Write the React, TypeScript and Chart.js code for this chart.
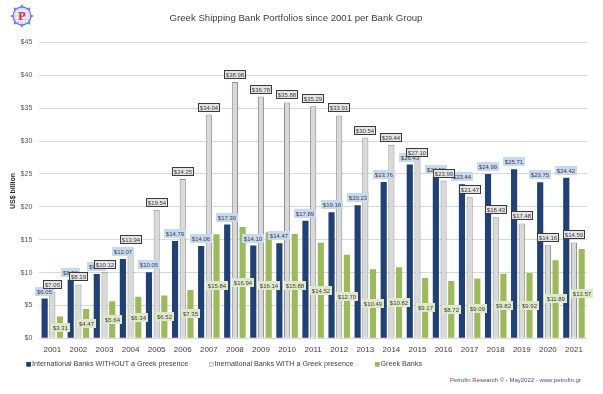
import React, { useEffect, useRef } from 'react';
import { Chart, registerables } from 'chart.js';
Chart.register(...registerables);

const years = ['2001','2002','2003','2004','2005','2006','2007','2008','2009','2010','2011','2012','2013','2014','2015','2016','2017','2018','2019','2020','2021'];
const withoutGreek = [6.05, 8.9, 9.79, 12.07, 10.05, 14.79, 14.06, 17.30, 14.10, 14.47, 17.89, 19.16, 20.23, 23.76, 26.43, 24.50, 23.44, 24.99, 25.71, 23.75, 24.42];
const withGreek = [7.05, 8.19, 10.12, 13.94, 19.54, 24.25, 34.04, 38.98, 36.78, 35.88, 35.29, 33.91, 30.54, 29.44, 27.10, 23.99, 21.47, 18.43, 17.48, 14.16, 14.59];
const greekBanks = [3.31, 4.47, 5.64, 6.34, 6.52, 7.35, 15.84, 16.94, 16.14, 15.88, 14.52, 12.70, 10.49, 10.82, 9.17, 8.72, 9.09, 9.82, 9.92, 11.89, 13.57];
const seriesNames = ['International Banks WITHOUT a Greek presence', 'Inernational Banks WITH a Greek presence', 'Greek Banks'];
const yMin = 0;
const yMax = 45;
const yStep = 5;
const titleText = 'Greek Shipping Bank Portfolios since 2001 per Bank Group';
const yTitle = 'US$ billion';

const FONT = '"Liberation Sans", Arial, sans-serif';
const BLUE = '#1f4177';
const GRAY = '#d9d9d9';
const GREEN = '#9bbb59';

const labelStyles = [
  { bg: '#c6d9f1', border: null as string | null },
  { bg: '#e4e4e4', border: '#3a3a3a' },
  { bg: '#dfe8c8', border: null as string | null },
];

const labelPlugin = {
  id: 'valueLabels',
  afterDatasetsDraw(chart: any) {
    const ctx = chart.ctx;
    ctx.save();
    ctx.font = `6px ${FONT}`;
    ctx.textAlign = 'center';
    ctx.textBaseline = 'middle';
    chart.data.datasets.forEach((ds: any, di: number) => {
      const meta = chart.getDatasetMeta(di);
      meta.data.forEach((bar: any, i: number) => {
        const v = ds.data[i];
        const text = '$' + v.toFixed(2);
        const p = bar.getProps(['x', 'y', 'base'], true);
        const cy = di === 2 ? (p.y + p.base) / 2 : p.y - 7.5;
        const w = Math.round(ctx.measureText(text).width + 4);
        const h = 9;
        const lx = Math.round(p.x - w / 2);
        const ly = Math.round(cy - h / 2);
        const st = labelStyles[di];
        ctx.fillStyle = st.bg;
        ctx.fillRect(lx, ly, w, h);
        if (st.border) {
          ctx.strokeStyle = st.border;
          ctx.lineWidth = 1;
          ctx.strokeRect(lx + 0.5, ly + 0.5, w - 1, h - 1);
        }
        ctx.fillStyle = '#404040';
        ctx.fillText(text, lx + w / 2, ly + h / 2 + 0.5);
      });
    });
    ctx.restore();
  },
};

const decorPlugin = {
  id: 'decor',
  afterDraw(chart: any) {
    const ctx = chart.ctx;
    ctx.save();
    // title
    ctx.fillStyle = '#404040';
    ctx.font = `9.6px ${FONT}`;
    ctx.textAlign = 'center';
    ctx.textBaseline = 'middle';
    ctx.fillText(titleText, 296, 18);

    // y axis title
    ctx.save();
    ctx.translate(13, 191);
    ctx.rotate(-Math.PI / 2);
    ctx.font = `bold 7px ${FONT}`;
    ctx.fillStyle = '#262626';
    ctx.fillText(yTitle, 0, 0);
    ctx.restore();

    // logo
    const cx = 22, cy = 16, r = 9;
    ctx.fillStyle = '#f2f3ff';
    ctx.beginPath(); ctx.arc(cx, cy, r, 0, Math.PI * 2); ctx.fill();
    ctx.strokeStyle = '#b9c0f0';
    ctx.lineWidth = 0.6;
    for (let k = -2; k <= 2; k++) {
      ctx.beginPath(); ctx.moveTo(cx - r, cy + k * 3.5); ctx.lineTo(cx + r, cy + k * 3.5); ctx.stroke();
      ctx.beginPath(); ctx.moveTo(cx + k * 3.5, cy - r); ctx.lineTo(cx + k * 3.5, cy + r); ctx.stroke();
    }
    ctx.strokeStyle = '#6d7de3';
    ctx.lineWidth = 1.3;
    ctx.beginPath(); ctx.arc(cx, cy, r, 0, Math.PI * 2); ctx.stroke();
    ctx.fillStyle = '#6d7de3';
    for (let a = 0; a < 8; a++) {
      const ang = (a * Math.PI) / 4;
      const x1 = cx + Math.cos(ang) * (r + 3), y1 = cy + Math.sin(ang) * (r + 3);
      const x2 = cx + Math.cos(ang + 0.18) * r, y2 = cy + Math.sin(ang + 0.18) * r;
      const x3 = cx + Math.cos(ang - 0.18) * r, y3 = cy + Math.sin(ang - 0.18) * r;
      ctx.beginPath(); ctx.moveTo(x1, y1); ctx.lineTo(x2, y2); ctx.lineTo(x3, y3); ctx.closePath(); ctx.fill();
    }
    ctx.fillStyle = '#e8202a';
    ctx.font = `bold 12px "Liberation Serif", serif`;
    ctx.fillText('P', cx, cy + 1);

    // legend
    const items = [
      { x: 26.5, fill: BLUE, stroke: BLUE },
      { x: 209, fill: '#f0f0f0', stroke: '#a6a6a6' },
      { x: 375, fill: GREEN, stroke: GREEN },
    ];
    ctx.font = `7.2px ${FONT}`;
    ctx.textAlign = 'left';
    ctx.textBaseline = 'middle';
    items.forEach((it, i) => {
      ctx.fillStyle = it.fill;
      ctx.fillRect(it.x, 362, 4.5, 4.5);
      ctx.strokeStyle = it.stroke;
      ctx.lineWidth = 0.6;
      ctx.strokeRect(it.x + 0.3, 362.3, 3.9, 3.9);
      ctx.fillStyle = '#404040';
      ctx.fillText(seriesNames[i], it.x + 5.5, 364.5);
    });

    // footer
    ctx.font = `6px ${FONT}`;
    const parts = [
      { t: 'P', c: '#e0202a' },
      { t: 'etrofin ', c: '#3e4f86' },
      { t: 'R', c: '#e0202a' },
      { t: 'esearch \u00A9 - May2022 - www.petrofin.gr', c: '#3e4f86' },
    ];
    let fx = 450;
    parts.forEach((p) => {
      ctx.fillStyle = p.c;
      ctx.fillText(p.t, fx, 380);
      fx += ctx.measureText(p.t).width;
    });
    ctx.restore();
  },
};

export default function App() {
  const ref = useRef<HTMLCanvasElement | null>(null);
  useEffect(() => {
    document.body.style.margin = '0';
    const canvas = ref.current!;
    const chart = new Chart(canvas, {
      type: 'bar',
      data: {
        labels: years,
        datasets: [
          { label: seriesNames[0], data: withoutGreek, backgroundColor: BLUE, borderWidth: 0, categoryPercentage: 0.885, barPercentage: 0.8 },
          { label: seriesNames[1], data: withGreek, backgroundColor: GRAY, borderColor: '#8f8f8f', borderWidth: 1, categoryPercentage: 0.885, barPercentage: 0.8 },
          { label: seriesNames[2], data: greekBanks, backgroundColor: GREEN, borderWidth: 0, categoryPercentage: 0.885, barPercentage: 0.8 },
        ],
      },
      options: {
        responsive: false,
        animation: false,
        devicePixelRatio: 1,
        layout: { padding: { left: 0, right: 16, top: 42.5, bottom: 35.7 } },
        plugins: { legend: { display: false }, tooltip: { enabled: false }, title: { display: false } },
        scales: {
          x: {
            grid: { display: false, drawTicks: false },
            border: { display: false },
            ticks: { font: { family: FONT, size: 8 }, color: '#404040', padding: 7, maxRotation: 0, autoSkip: false },
            afterFit: (s: any) => { s.height = 20; },
          },
          y: {
            min: yMin,
            max: yMax,
            grid: { color: '#d9d9d9', lineWidth: 1, drawTicks: false },
            border: { display: false },
            ticks: {
              stepSize: yStep,
              font: { family: FONT, size: 7 },
              color: '#595959',
              padding: 7,
              callback: (v: any) => '$' + v,
            },
            afterFit: (s: any) => { s.width = 39.3; },
          },
        },
      },
      plugins: [labelPlugin, decorPlugin],
    });
    return () => chart.destroy();
  }, []);
  return (
    <canvas
      ref={ref}
      width={603}
      height={394}
      style={{ position: 'fixed', left: 0, top: 0, width: 603, height: 394, background: '#ffffff' }}
    />
  );
}
